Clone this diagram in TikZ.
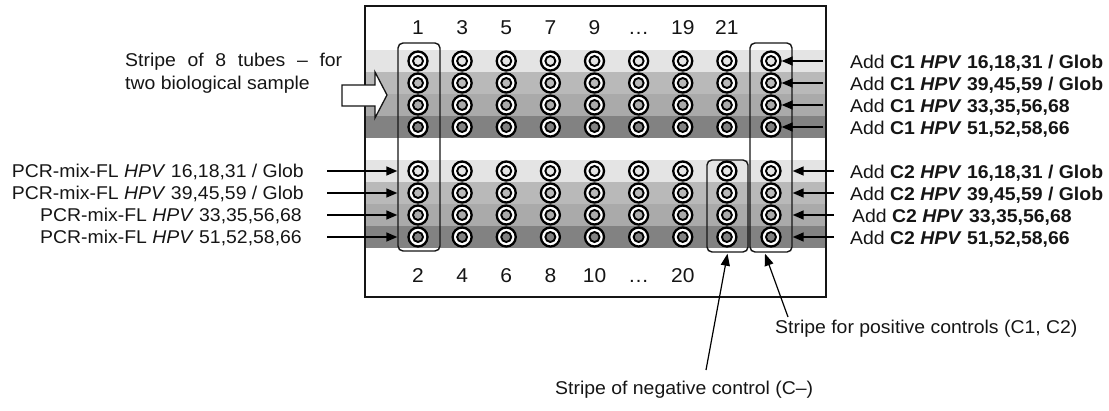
\documentclass[tikz,border=0pt]{standalone}
\usepackage{fontspec}
\setmainfont[FakeStretch=1.05]{Liberation Sans}
\usetikzlibrary{arrows.meta,calc}

\definecolor{bandA}{HTML}{E4E4E4}
\definecolor{bandB}{HTML}{B9B9B9}
\definecolor{bandC}{HTML}{AAAAAA}
\definecolor{bandD}{HTML}{828282}
\definecolor{ink}{HTML}{151515}

\begin{document}
\begin{tikzpicture}[x=1pt,y=-1pt,
  lbl/.style={font=\fontsize{18.5}{21}\selectfont, inner sep=0pt, text=ink},
  num/.style={font=\fontsize{20}{22}\selectfont, inner sep=0pt, text=ink, anchor=base},
  plate/.style={draw=ink, line width=1.4pt, inner sep=0pt},
  stripebox/.style={draw=ink, line width=1.4pt, rounded corners=5pt, inner sep=0pt},
  tube/.style={circle, draw=black, line width=2.3pt, fill=white, minimum size=19pt, inner sep=0pt},
  well/.style={circle, draw=black, line width=1.9pt, minimum size=10pt, inner sep=0pt},
  feed/.style={-{Triangle[length=11pt,width=9pt]}, line width=1.5pt, draw=black},
  pointer/.style={-{Triangle[length=12pt,width=9pt]}, line width=1.2pt, draw=black},
]
\useasboundingbox (0,0) rectangle (1109,410);

% shaded rows of the plate, one shade per PCR mix
\foreach \c [count=\i from 0] in {bandA,bandB,bandC,bandD} {
  \fill[\c] (365,50+22*\i) rectangle (826,72+22*\i);
  \fill[\c] (365,160+22*\i) rectangle (826,182+22*\i);
}

% plate outline
\node[plate, minimum width=461pt, minimum height=291pt] (plate) at (595.5,151.5) {};

% tubes: 9 columns, two groups of 4 rows
\foreach \col in {0,...,8} {
  \foreach \c [count=\r from 0] in {bandA,bandB,bandC,bandD} {
    \node[tube] (t-\col-\r) at (418+44.125*\col, 61+22*\r) {};
    \node[well, fill=\c] at (t-\col-\r) {};
    \node[tube] (b-\col-\r) at (418+44.125*\col, 171+22*\r) {};
    \node[well, fill=\c] at (b-\col-\r) {};
  }
}

% column numbers
\foreach \t [count=\i from 0] in {1,3,5,7,9,…,19,21}
  \node[num] (top-\i) at (418+44.125*\i, 34) {\t};
\foreach \t [count=\i from 0] in {2,4,6,8,10,…,20}
  \node[num] (bot-\i) at (418+44.125*\i, 282) {\t};

% stripes
\node[stripebox, minimum width=42pt, minimum height=208pt] (s1) at (419,147) {};
\node[stripebox, minimum width=42pt, minimum height=209pt] (pos) at (771,147.5) {};
\node[stripebox, minimum width=41pt, minimum height=92pt] (neg) at (727.5,206) {};

% hollow arrow towards the sample stripe
\draw[line width=1.3pt, draw=ink, fill=white]
  (342,85) -- (375,85) -- (375,72) -- (387,95) -- (375,118) -- (375,106) -- (342,106) -- cycle;
\node[lbl, anchor=base west] (st1) at (125,66) {\makebox[217pt][s]{Stripe of 8 tubes – for}};
\node[lbl, anchor=base west] (st2) at (125,89) {two biological sample};

% PCR mixes on the left
\node[lbl, anchor=base east] (lp0) at (304,177.5) {PCR-mix-FL \textit{HPV} 16,18,31 / Glob};
\node[lbl, anchor=base east] (lp1) at (304,199.5) {PCR-mix-FL \textit{HPV} 39,45,59 / Glob};
\node[lbl, anchor=base east] (lp2) at (302,221.5) {PCR-mix-FL \textit{HPV} 33,35,56,68};
\node[lbl, anchor=base east] (lp3) at (302,243.5) {PCR-mix-FL \textit{HPV} 51,52,58,66};
\foreach \r/\y in {0/171,1/193,2/215,3/237} {
  \coordinate (la\r) at (327,\y);
  \draw[feed] (la\r) -- (la\r -| s1.west);
}

% positive controls on the right
\node[lbl, anchor=base west] (rc0) at (850,68) {Add \textbf{C1 \textit{HPV} 16,18,31 / Glob}};
\node[lbl, anchor=base west] (rc1) at (850,90) {Add \textbf{C1 \textit{HPV} 39,45,59 / Glob}};
\node[lbl, anchor=base west] (rc2) at (850,112) {Add \textbf{C1 \textit{HPV} 33,35,56,68}};
\node[lbl, anchor=base west] (rc3) at (850,134) {Add \textbf{C1 \textit{HPV} 51,52,58,66}};
\node[lbl, anchor=base west] (rd0) at (850,178) {Add \textbf{C2 \textit{HPV} 16,18,31 / Glob}};
\node[lbl, anchor=base west] (rd1) at (850,200) {Add \textbf{C2 \textit{HPV} 39,45,59 / Glob}};
\node[lbl, anchor=base west] (rd2) at (852,222) {Add \textbf{C2 \textit{HPV} 33,35,56,68}};
\node[lbl, anchor=base west] (rd3) at (850,244) {Add \textbf{C2 \textit{HPV} 51,52,58,66}};
\foreach \r in {0,...,3} {
  \coordinate (ra\r) at ($(t-8-\r)+(52,0)$);
  \draw[feed] (ra\r) -- (t-8-\r.east);
  \coordinate (rb\r) at ($(b-8-\r)+(63,0)$);
  \draw[feed] (rb\r) -- (rb\r -| pos.east);
}

% control stripe callouts
\node[lbl, anchor=base west] (poslbl) at (775,333) {Stripe for positive controls (C1, C2)};
\node[lbl, anchor=base west] (neglbl) at (555,394) {Stripe of negative control (C–)};
\coordinate (pt) at (788,317);
\coordinate (nt) at (706,370);
\draw[pointer] (pt) -- ($(pos.south)+(-6,1)$);
\draw[pointer] (nt) -- ($(neg.south)+(0,1)$);
\end{tikzpicture}
\end{document}
